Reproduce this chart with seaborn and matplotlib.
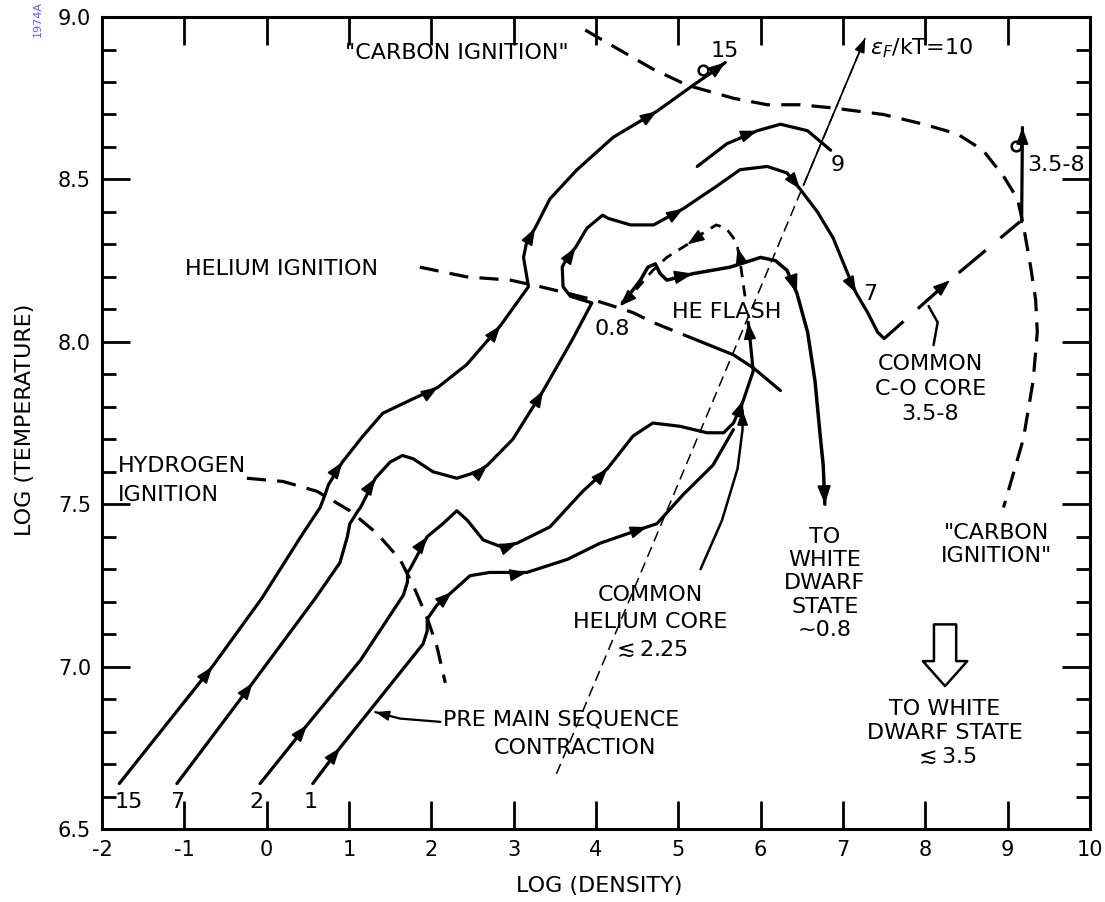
import matplotlib
matplotlib.use("Agg")
import matplotlib.pyplot as plt
from matplotlib.ticker import MultipleLocator, NullLocator
import seaborn as sns

# evolutionary tracks, log(density) vs log(temperature)
track15_x = [-1.79, -0.66, -0.06, 0.44, 0.65, 0.71, 0.75, 0.92, 1.17, 1.41, 1.74, 2.08, 2.43,
             2.84, 3.18, 3.12, 3.16, 3.26, 3.44, 3.77, 4.21, 4.74, 5.18, 5.41, 5.57]
track15_y = [6.64, 7.00, 7.21, 7.41, 7.49, 7.53, 7.56, 7.63, 7.71, 7.78, 7.82, 7.86, 7.93,
             8.05, 8.17, 8.26, 8.31, 8.35, 8.44, 8.53, 8.63, 8.71, 8.79, 8.83, 8.86]

track7_x = [-1.09, -0.17, 0.59, 0.89, 0.98, 1.01, 1.11, 1.14, 1.32, 1.50, 1.65, 1.78, 2.02,
            2.31, 2.56, 2.68, 2.99, 3.36, 3.72, 3.95, 3.69, 3.60, 3.59, 3.65, 3.75, 3.89,
            4.08, 4.15, 4.42, 4.70, 5.06, 5.47, 5.75, 6.08, 6.32, 6.48, 6.69, 6.88, 7.09,
            7.16, 7.30, 7.42]
track7_y = [6.64, 6.95, 7.21, 7.32, 7.40, 7.44, 7.48, 7.49, 7.58, 7.63, 7.65, 7.64, 7.60,
            7.58, 7.60, 7.62, 7.70, 7.85, 8.01, 8.12, 8.14, 8.17, 8.23, 8.26, 8.29, 8.35,
            8.39, 8.38, 8.36, 8.36, 8.41, 8.48, 8.53, 8.54, 8.52, 8.47, 8.40, 8.32, 8.19,
            8.15, 8.09, 8.03]

track9_x = [5.23, 5.59, 5.96, 6.24, 6.57, 6.85]
track9_y = [8.54, 8.61, 8.65, 8.67, 8.65, 8.59]

track2_x = [-0.08, 0.49, 1.14, 1.66, 1.71, 1.71, 1.74, 1.95, 2.14, 2.31, 2.44, 2.63, 2.84,
            3.04, 3.44, 3.84, 4.14, 4.45, 4.69, 5.02, 5.35, 5.55, 5.67, 5.79, 5.91, 5.85]
track2_y = [6.64, 6.82, 7.02, 7.22, 7.26, 7.29, 7.30, 7.40, 7.44, 7.48, 7.45, 7.39, 7.37,
            7.38, 7.43, 7.54, 7.61, 7.71, 7.75, 7.74, 7.72, 7.72, 7.75, 7.82, 7.91, 8.06]

track1_x = [0.56, 0.89, 1.90, 1.95, 1.95, 1.96, 2.07, 2.25, 2.47, 2.71, 3.16, 3.65, 4.05,
            4.62, 4.74, 5.06, 5.42, 5.67]
track1_y = [6.64, 6.75, 7.07, 7.11, 7.15, 7.15, 7.19, 7.23, 7.28, 7.29, 7.29, 7.33, 7.38,
            7.43, 7.44, 7.53, 7.62, 7.73]

# 0.8 Msun track after the helium flash, down to the white dwarf state
track08_x = [4.32, 4.45, 4.54, 4.63, 4.72, 4.78, 4.86, 5.18, 5.63, 6.00, 6.18, 6.32, 6.44,
             6.57, 6.66, 6.72, 6.76, 6.78]
track08_y = [8.12, 8.16, 8.19, 8.23, 8.24, 8.21, 8.19, 8.21, 8.23, 8.26, 8.25, 8.22, 8.15,
             8.03, 7.88, 7.72, 7.62, 7.50]

flash_x = [5.81, 5.76, 5.72, 5.67, 5.58, 5.46, 5.27, 5.11, 4.86, 4.69, 4.45, 4.29]
flash_y = [8.14, 8.23, 8.29, 8.32, 8.35, 8.36, 8.33, 8.30, 8.26, 8.22, 8.15, 8.11]

co_core_x = [7.42, 7.50, 8.30, 9.15]
co_core_y = [8.03, 8.01, 8.19, 8.37]
co_up_x = [9.17, 9.18]
co_up_y = [8.37, 8.66]

# ignition lines
hydrogen_x = [-0.24, 0.20, 0.61, 1.01, 1.34, 1.62, 1.78, 1.95, 2.07, 2.17]
hydrogen_y = [7.58, 7.57, 7.54, 7.48, 7.41, 7.33, 7.25, 7.15, 7.06, 6.95]

helium_x = [1.86, 2.43, 2.96, 3.32, 3.65, 3.96, 4.21, 4.45, 4.69, 5.18, 5.67, 5.91, 6.24]
helium_y = [8.23, 8.20, 8.19, 8.17, 8.15, 8.13, 8.11, 8.09, 8.06, 8.01, 7.96, 7.92, 7.85]

carbon_x = [3.87, 4.21, 4.69, 5.11, 5.67, 6.08, 6.48, 6.88, 7.49, 7.98, 8.39, 8.70, 8.95,
            9.12, 9.19, 9.28, 9.34, 9.36, 9.31, 9.19, 8.95]
carbon_y = [8.96, 8.91, 8.84, 8.79, 8.75, 8.73, 8.73, 8.72, 8.70, 8.67, 8.64, 8.59, 8.51,
            8.44, 8.36, 8.23, 8.13, 8.03, 7.88, 7.70, 7.49]

degen_x = [3.52, 7.27]
degen_y = [6.67, 8.935]

# leader lines for labels
pre_ms_x = [1.32, 1.62, 2.11]
pre_ms_y = [6.86, 6.84, 6.83]
he_core_x = [5.27, 5.53, 5.72, 5.78, 5.78]
he_core_y = [7.30, 7.45, 7.61, 7.73, 7.79]
co_lead_x = [8.10, 8.15, 8.04]
co_lead_y = [7.99, 8.06, 8.11]

x_ticks = list(range(-2, 11))
y_ticks = [6.5, 7.0, 7.5, 8.0, 8.5, 9.0]


def draw(ax, xs, ys, lw=2.3, ls='-'):
    sns.lineplot(x=xs, y=ys, sort=False, estimator=None, color='black',
                 linewidth=lw, linestyle=ls, ax=ax)


def heads(ax, xs, ys, idx, ms=17):
    #small filled arrowheads along a curve
    for i in idx:
        a = max(i - 1, 0)
        b = min(i + 1, len(xs) - 1)
        dx = xs[b] - xs[a]
        dy = ys[b] - ys[a]
        ax.annotate('', xy=(xs[i], ys[i]), xytext=(xs[i] - 0.2 * dx, ys[i] - 0.2 * dy),
                    arrowprops=dict(arrowstyle='-|>,head_length=0.6,head_width=0.22',
                                    color='black', lw=1.2, shrinkA=0, shrinkB=0,
                                    mutation_scale=ms))


def main():
    sns.set_theme(style='white')
    plt.rcParams['font.family'] = ['DejaVu Sans']
    plt.rcParams['mathtext.fontset'] = 'dejavusans'
    plt.rcParams['text.color'] = 'black'
    plt.rcParams['axes.labelcolor'] = 'black'
    plt.rcParams['xtick.color'] = 'black'
    plt.rcParams['ytick.color'] = 'black'

    fig = plt.figure(figsize=(11.05, 9.02), dpi=100)
    ax = fig.add_axes([0.0923, 0.0809, 0.8941, 0.9002])

    # tracks
    draw(ax, track15_x, track15_y)
    heads(ax, track15_x, track15_y, [1, 7, 11, 13, 17, 21, len(track15_x) - 1])
    draw(ax, track7_x, track7_y)
    heads(ax, track7_x, track7_y, [1, 8, 15, 17, 24, 30, 35, 39])
    draw(ax, track9_x, track9_y)
    heads(ax, track9_x, track9_y, [2])
    draw(ax, track2_x, track2_y)
    heads(ax, track2_x, track2_y, [1, 7, 13, 16, 23, len(track2_x) - 1])
    draw(ax, track1_x, track1_y)
    heads(ax, track1_x, track1_y, [1, 7, 10, 13])
    draw(ax, track08_x, track08_y, lw=2.5)
    heads(ax, track08_x, track08_y, [7, 12, len(track08_x) - 1], ms=19)
    draw(ax, flash_x, flash_y, lw=2.0, ls=(0, (4, 3)))
    heads(ax, flash_x, flash_y, [2, 7, len(flash_x) - 1])
    draw(ax, co_core_x, co_core_y, lw=2.3, ls=(0, (11, 6)))
    heads(ax, co_core_x, co_core_y, [2])
    draw(ax, co_up_x, co_up_y)
    heads(ax, co_up_x, co_up_y, [1])
    # little loops at the track ends
    ax.plot([5.30], [8.836], marker='o', ms=7, mfc='none', mec='black', mew=1.8)
    ax.plot([9.105], [8.602], marker='o', ms=7, mfc='none', mec='black', mew=1.8)

    # ignition lines and degeneracy line
    draw(ax, hydrogen_x, hydrogen_y, ls=(0, (6, 3.5)))
    draw(ax, helium_x[:10], helium_y[:10], ls=(0, (6, 3.5)))
    draw(ax, helium_x[9:], helium_y[9:])
    draw(ax, carbon_x, carbon_y, ls=(0, (6, 3.5)))
    draw(ax, degen_x, degen_y, lw=1.1, ls=(0, (7, 4)))
    heads(ax, degen_x, degen_y, [1], ms=14)

    # leaders
    draw(ax, pre_ms_x, pre_ms_y, lw=1.6)
    heads(ax, pre_ms_x[::-1], pre_ms_y[::-1], [len(pre_ms_x) - 1], ms=14)
    draw(ax, he_core_x, he_core_y, lw=1.8)
    heads(ax, he_core_x, he_core_y, [len(he_core_x) - 1], ms=15)
    draw(ax, co_lead_x, co_lead_y, lw=1.8)

    # hollow arrow toward the white dwarf state
    ax.annotate('', xy=(8.24, 6.94), xytext=(8.24, 7.13),
                arrowprops=dict(arrowstyle='simple,head_length=0.9,head_width=1.6,tail_width=0.8',
                                fc='white', ec='black', lw=1.8, mutation_scale=20,
                                shrinkA=0, shrinkB=0))

    fs = 16
    txt = dict(ha='center', va='center', fontsize=fs, color='black')
    ax.text(2.31, 8.89, '"CARBON IGNITION"', **txt)
    ax.text(5.57, 8.895, '15', **txt)
    ax.text(7.33, 8.905, r'$\epsilon_F$/kT=10', ha='left', va='center', fontsize=fs)
    ax.text(6.93, 8.543, '9', **txt)
    ax.text(9.24, 8.543, '3.5-8', ha='left', va='center', fontsize=fs)
    ax.text(-0.99, 8.225, 'HELIUM IGNITION', ha='left', va='center', fontsize=fs)
    ax.text(4.20, 8.04, '0.8', **txt)
    ax.text(5.59, 8.092, 'HE FLASH', **txt)
    ax.text(7.33, 8.148, '7', **txt)
    ax.text(8.06, 7.855, 'COMMON\nC-O CORE\n3.5-8', linespacing=1.3, **txt)
    ax.text(-1.806, 7.574, 'HYDROGEN\nIGNITION', ha='left', va='center', fontsize=fs,
            linespacing=1.55)
    ax.text(6.78, 7.256, 'TO\nWHITE\nDWARF\nSTATE\n~0.8', linespacing=1.2, **txt)
    ax.text(8.87, 7.376, '"CARBON\nIGNITION"', linespacing=1.2, **txt)
    ax.text(4.66, 7.136, 'COMMON\nHELIUM CORE\n$\\lesssim$2.25', linespacing=1.45, **txt)
    ax.text(2.14, 6.836, 'PRE MAIN SEQUENCE', ha='left', va='center', fontsize=fs)
    ax.text(3.75, 6.75, 'CONTRACTION', **txt)
    ax.text(8.24, 6.796, 'TO WHITE\nDWARF STATE\n$\\lesssim$3.5', linespacing=1.2, **txt)
    for lab, xp in [('15', -1.68), ('7', -1.09), ('2', -0.13), ('1', 0.54)]:
        ax.text(xp, 6.583, lab, **txt)

    # axes
    ax.set_xlim(-2, 10)
    ax.set_ylim(6.5, 9.0)
    ax.set_xticks(x_ticks)
    ax.set_xticklabels([str(v) for v in x_ticks])
    ax.set_yticks(y_ticks)
    ax.set_yticklabels(['%.1f' % v for v in y_ticks])
    ax.xaxis.set_minor_locator(NullLocator())
    ax.yaxis.set_minor_locator(MultipleLocator(0.1))
    ax.tick_params(which='major', direction='in', top=True, right=True, bottom=True, left=True,
                   length=20, width=2, labelsize=15, pad=8, colors='black')
    ax.tick_params(axis='y', which='minor', direction='in', left=True, right=True,
                   length=10, width=2, colors='black')
    for s in ax.spines.values():
        s.set_linewidth(2.2)
        s.set_color('black')
    ax.set_xlabel('LOG (DENSITY)', fontsize=16, color='black')
    ax.set_ylabel('LOG (TEMPERATURE)', fontsize=16, color='black')
    ax.xaxis.set_label_coords(0.503, -0.058)
    ax.yaxis.set_label_coords(-0.068, 0.504)

    fig.text(0.0344, 0.999, '1974A', rotation=90, color='#5a5aff', fontsize=8,
             ha='center', va='top')

    fig.savefig('out.png', dpi=100)


if __name__ == '__main__':
    main()
